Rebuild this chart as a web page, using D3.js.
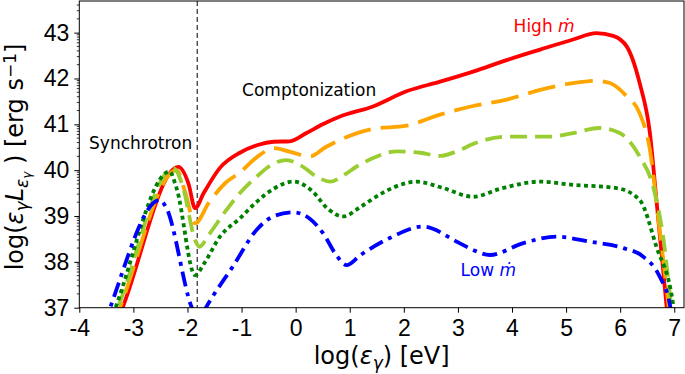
<!DOCTYPE html>
<html lang="en">
<head>
    <meta charset="UTF-8">
    <title>Spectra vs accretion rate</title>
    <script src="https://d3js.org/d3.v7.min.js"></script>
    <style>
        body {
            margin: 0;
            background: #fff;
            font-family: 'DejaVu Sans', sans-serif;
        }
        .tick text {
            font-size: 23px;
            fill: #000;
        }
        .axis-label {
            font-size: 24px;
            fill: #000;
        }
        .note {
            font-size: 17px;
        }
    </style>
</head>
<body>
    <svg id="chart" width="685" height="374"></svg>

    <script>
        // log(eps) tick values
        const xTicks = [-4, -3, -2, -1, 0, 1, 2, 3, 4, 5, 6, 7];
        const yTicks = [37, 38, 39, 40, 41, 42, 43];

        // High mdot (red, solid)
        const xRed = [-3.35, -3.2, -2.17, -1.98, -1.86, -1.7, -1.4, -1.03, -0.7, -0.41, -0.11, 0.2, 0.5, 0.82, 1.43, 2.05, 2.67, 3.28, 3.9, 4.52, 5.13, 5.56, 5.87, 6.12, 6.36, 6.55, 6.67, 6.78, 6.86, 6.9];
        const yRed = [36.55, 37.0, 40.07, 39.7, 39.17, 39.5, 40.05, 40.38, 40.55, 40.62, 40.63, 40.81, 41.0, 41.17, 41.39, 41.72, 41.93, 42.15, 42.4, 42.63, 42.85, 42.99, 42.93, 42.7, 41.9, 40.81, 39.35, 38.0, 37.0, 36.5];

        // orange, long dashes
        const xOrange = [-3.4, -3.25, -2.2, -2.05, -1.86, -1.6, -1.3, -1.03, -0.7, -0.41, -0.1, 0.26, 0.55, 0.82, 1.43, 2.05, 2.67, 3.28, 3.9, 4.52, 5.13, 5.56, 5.81, 6.12, 6.36, 6.55, 6.7, 6.9, 6.95];
        const yOrange = [36.55, 37.0, 40.0, 39.55, 38.84, 39.3, 39.72, 39.95, 40.3, 40.48, 40.4, 40.3, 40.5, 40.66, 40.9, 40.97, 41.21, 41.4, 41.54, 41.75, 41.9, 41.95, 41.9, 41.61, 41.24, 40.44, 39.0, 37.0, 36.5];

        // yellowgreen, short dashes
        const xLime = [-3.45, -3.29, -2.26, -2.1, -1.85, -1.78, -1.6, -1.3, -1.03, -0.72, -0.4, -0.17, 0.1, 0.4, 0.64, 0.9, 1.13, 1.5, 1.87, 2.3, 2.67, 3.0, 3.28, 3.9, 4.7, 5.13, 5.62, 5.99, 6.36, 6.61, 6.8, 6.95, 7.0];
        const yLime = [36.55, 37.0, 40.04, 39.7, 38.45, 38.33, 38.6, 39.1, 39.5, 39.86, 40.15, 40.22, 40.1, 39.85, 39.75, 39.9, 40.08, 40.3, 40.41, 40.38, 40.31, 40.42, 40.57, 40.73, 40.73, 40.81, 40.92, 40.81, 40.3, 39.64, 38.5, 37.0, 36.6];

        // green, dotted
        const xGreen = [-3.47, -3.33, -2.33, -2.2, -1.86, -1.7, -1.4, -1.03, -0.72, -0.4, -0.04, 0.3, 0.6, 0.88, 1.2, 1.6, 2.05, 2.24, 2.7, 3.28, 3.8, 4.52, 5.13, 5.93, 6.36, 6.67, 6.98, 7.02];
        const yGreen = [36.55, 37.0, 39.97, 39.6, 37.71, 37.95, 38.55, 38.95, 39.31, 39.6, 39.75, 39.55, 39.15, 38.99, 39.2, 39.5, 39.72, 39.75, 39.62, 39.42, 39.6, 39.75, 39.68, 39.61, 39.35, 38.33, 37.06, 36.6];

        // Low mdot (blue, dash-dot)
        const xBlue = [-3.55, -3.43, -2.51, -2.4, -1.92, -1.8, -1.66, -1.15, -0.72, -0.4, -0.04, 0.25, 0.51, 0.75, 0.94, 1.2, 1.74, 2.36, 2.98, 3.3, 3.59, 4.21, 4.82, 5.44, 6.06, 6.43, 6.73, 6.92, 6.97];
        const yBlue = [36.6, 37.0, 39.35, 39.2, 37.0, 36.7, 37.0, 37.92, 38.7, 39.0, 39.08, 38.95, 38.62, 38.15, 37.93, 38.15, 38.52, 38.77, 38.44, 38.25, 38.15, 38.41, 38.55, 38.44, 38.3, 38.11, 37.68, 37.06, 36.6];

        const vLineX = -1.82;

        // red first, the lower curves are drawn over it
        const series = [
            { xs: xRed, ys: yRed, color: "red", dash: null },
            { xs: xOrange, ys: yOrange, color: "orange", dash: "28,10" },
            { xs: xLime, ys: yLime, color: "yellowgreen", dash: "17,8" },
            { xs: xGreen, ys: yGreen, color: "green", dash: "4,3.5" },
            { xs: xBlue, ys: yBlue, color: "blue", dash: "15,6,4,6" }
        ];

        const margin = { top: 1, right: 1, bottom: 66.3, left: 79.3 };
        const width = 685 - margin.left - margin.right;
        const height = 374 - margin.top - margin.bottom;

        const svg = d3.select("#chart");
        const g = svg.append("g")
                     .attr("transform", `translate(${margin.left},${margin.top})`);

        const x = d3.scaleLinear().domain([-4, 7.18]).range([0, width]);
        const y = d3.scaleLinear().domain([37, 43.69]).range([height, 0]);

        g.append("clipPath").attr("id", "clip")
         .append("rect").attr("width", width).attr("height", height);

        // vertical marker between synchrotron and comptonization
        g.append("line")
         .attr("x1", x(vLineX)).attr("x2", x(vLineX))
         .attr("y1", 0).attr("y2", height)
         .attr("stroke", "#000")
         .attr("stroke-width", 1)
         .attr("stroke-dasharray", "5,3");

        const line = d3.line()
                       .x(d => x(d[0]))
                       .y(d => y(d[1]))
                       .curve(d3.curveMonotoneX);

        const plot = g.append("g").attr("clip-path", "url(#clip)");
        series.forEach(s => {
            plot.append("path")
                .datum(s.xs.map((v, i) => [v, s.ys[i]]))
                .attr("d", line)
                .attr("fill", "none")
                .attr("stroke", s.color)
                .attr("stroke-width", 3.8)
                .attr("stroke-dasharray", s.dash);
        });

        // axes (plain hyphen minus like the original)
        g.append("g")
         .attr("transform", `translate(0,${height})`)
         .call(d3.axisBottom(x).tickValues(xTicks).tickFormat(d => String(d)).tickSize(5).tickPadding(7).tickSizeOuter(0))
         .call(a => a.select(".domain").remove());

        g.append("g")
         .call(d3.axisLeft(y).tickValues(yTicks).tickFormat(d => String(d)).tickSize(5).tickPadding(5).tickSizeOuter(0))
         .call(a => a.select(".domain").remove());

        // minor y ticks at n + log10(k)
        const minor = [];
        d3.range(36, 44).forEach(n => d3.range(2, 10).forEach(k => {
            const v = n + Math.log10(k);
            if (v > 37 && v < 43.69) minor.push(v);
        }));
        g.append("g").selectAll("line")
         .data(minor).enter().append("line")
         .attr("x1", -2.5).attr("x2", 0)
         .attr("y1", d => y(d)).attr("y2", d => y(d))
         .attr("stroke", "#000").attr("stroke-width", 0.8);

        g.append("rect")
         .attr("width", width).attr("height", height)
         .attr("fill", "none").attr("stroke", "#000").attr("stroke-width", 1);

        // axis labels
        const xl = svg.append("text")
                      .attr("class", "axis-label")
                      .attr("x", margin.left + width / 2)
                      .attr("y", 364)
                      .attr("text-anchor", "middle");
        xl.append("tspan").text("log(");
        xl.append("tspan").attr("font-style", "italic").text("ε");
        xl.append("tspan").attr("font-style", "italic").attr("font-size", "17px").attr("dy", 5).text("γ");
        xl.append("tspan").attr("dy", -5).text(") [eV]");

        const yl = svg.append("text")
                      .attr("class", "axis-label")
                      .attr("transform", `translate(23,157) rotate(-90)`)
                      .attr("text-anchor", "middle");
        yl.append("tspan").text("log(");
        yl.append("tspan").attr("font-style", "italic").text("ε");
        yl.append("tspan").attr("font-style", "italic").attr("font-size", "17px").attr("dy", 5).text("γ");
        yl.append("tspan").attr("font-style", "italic").attr("dy", -5).text("L");
        yl.append("tspan").attr("font-style", "italic").attr("font-size", "17px").attr("dy", 5).text("ε");
        yl.append("tspan").attr("font-style", "italic").attr("font-size", "12px").attr("dy", 3).text("γ");
        yl.append("tspan").attr("dy", -8).text(" ) [erg s");
        yl.append("tspan").attr("font-size", "17px").attr("dy", -7).text("−1");
        yl.append("tspan").attr("dy", 7).text("]");

        // annotations
        g.append("text").attr("class", "note")
         .attr("x", x(-3.82)).attr("y", y(40.46)).text("Synchrotron");
        g.append("text").attr("class", "note")
         .attr("x", x(-0.99)).attr("y", y(41.62)).text("Comptonization");

        const hi = g.append("text").attr("class", "note").attr("fill", "red")
                    .attr("font-size", "18px")
                    .attr("x", x(4.03)).attr("y", y(43.02));
        hi.append("tspan").text("High ");
        hi.append("tspan").attr("font-style", "italic").text("ṁ");

        const lo = g.append("text").attr("class", "note").attr("fill", "blue")
                    .attr("font-size", "18px")
                    .attr("x", x(3.05)).attr("y", y(37.7));
        lo.append("tspan").text("Low ");
        lo.append("tspan").attr("font-style", "italic").text("ṁ");
    </script>
</body>
</html>
